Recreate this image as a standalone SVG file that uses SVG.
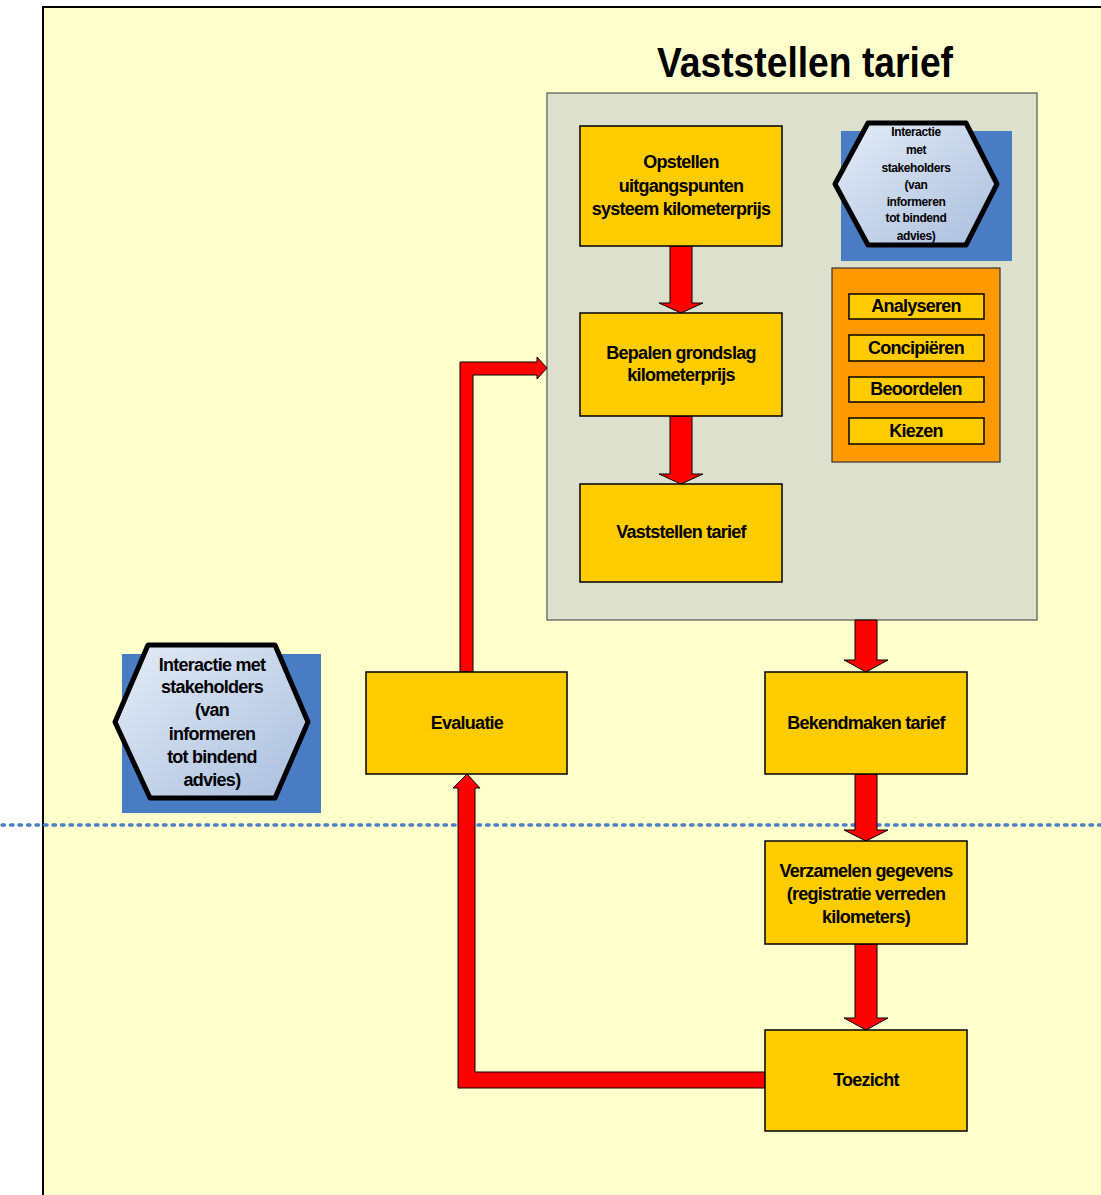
<svg xmlns="http://www.w3.org/2000/svg" width="1101" height="1195" viewBox="0 0 1101 1195">
<defs>
<style>
.t{font-family:"Liberation Sans",Arial,sans-serif;font-weight:bold;fill:#000;text-anchor:middle}
.b{font-size:18px;letter-spacing:-0.75px}
.s{font-size:12px;letter-spacing:-0.4px}
.box{fill:#FFCC00;stroke:#000;stroke-width:1.5}
.arr{fill:#FF0000;stroke:#000;stroke-width:1}
.hex{stroke:#000;stroke-width:5;stroke-linejoin:round;fill:url(#hg)}
.bluebg{fill:#4A7CC4}
</style>
<linearGradient id="hg" x1="0" y1="0" x2="1" y2="1">
<stop offset="0" stop-color="#E4ECF7"/>
<stop offset="1" stop-color="#A9BEDD"/>
</linearGradient>
</defs>
<rect x="0" y="0" width="1101" height="1195" fill="#FFFFFF"/>
<rect id="frame" x="43" y="7" width="1070" height="1200" fill="#FFFFCC" stroke="#000" stroke-width="2"/>
<text class="t" x="805" y="77" font-size="43" textLength="296" lengthAdjust="spacingAndGlyphs">Vaststellen tarief</text>
<line x1="2" y1="825" x2="1101" y2="825" stroke="#4F7FC4" stroke-width="3.5" stroke-dasharray="2.5 6" stroke-linecap="round"/>

<g id="container">
<rect x="547" y="93" width="490" height="527" fill="#DDE0CC" stroke="#555" stroke-width="1.2"/>
</g>

<g id="connectors">
<path class="arr" d="M670,246 H692 V303 H703 L681,313 L659,303 H670 Z"/>
<path class="arr" d="M670,416 H692 V474 H703 L681,484 L659,474 H670 Z"/>
<path class="arr" d="M855,620 H877 V660 H888 L866,672 L844,660 H855 Z"/>
<path class="arr" d="M855,774 H877 V830 H888 L866,841 L844,830 H855 Z"/>
<path class="arr" d="M855,944 H877 V1018 H888 L866,1030 L844,1018 H855 Z"/>
<path class="arr" d="M460,672 V362 H537 V357 L547,368 L537,379 V375 H473 V672 Z"/>
<path class="arr" d="M765,1072 V1088 H458 V788 H453 L467,774 L480,788 H475 V1072 Z"/>
</g>

<g id="opstellen">
<rect class="box" x="580" y="126" width="202" height="120"/>
<text class="t b" x="681" y="168">Opstellen</text>
<text class="t b" x="681" y="192">uitgangspunten</text>
<text class="t b" x="681" y="215">systeem kilometerprijs</text>
</g>
<g id="bepalen">
<rect class="box" x="580" y="313" width="202" height="103"/>
<text class="t b" x="681" y="359">Bepalen grondslag</text>
<text class="t b" x="681" y="381">kilometerprijs</text>
</g>
<g id="vaststellen">
<rect class="box" x="580" y="484" width="202" height="98"/>
<text class="t b" x="681" y="538">Vaststellen tarief</text>
</g>

<g id="interactie-top">
<rect class="bluebg" x="841" y="131" width="171" height="130"/>
<polygon class="hex" points="868,123 966,123 997,184 966,245 868,245 835,184"/>
<text class="t s" x="916" y="136">Interactie</text>
<text class="t s" x="916" y="154">met</text>
<text class="t s" x="916" y="172">stakeholders</text>
<text class="t s" x="916" y="189">(van</text>
<text class="t s" x="916" y="206">informeren</text>
<text class="t s" x="916" y="222">tot bindend</text>
<text class="t s" x="916" y="240">advies)</text>
</g>

<g id="activiteiten">
<rect x="832" y="268" width="168" height="194" fill="#FF9900" stroke="#333" stroke-width="1.2"/>
<rect class="box" x="849" y="294" width="135" height="25"/>
<text class="t b" x="916" y="312">Analyseren</text>
<rect class="box" x="849" y="335" width="135" height="26"/>
<text class="t b" x="916" y="354">Concipiëren</text>
<rect class="box" x="849" y="377" width="135" height="25"/>
<text class="t b" x="916" y="395">Beoordelen</text>
<rect class="box" x="849" y="418" width="135" height="26"/>
<text class="t b" x="916" y="437">Kiezen</text>
</g>

<g id="interactie-left">
<rect class="bluebg" x="122" y="654" width="199" height="159"/>
<polygon class="hex" points="148,645 275,645 308,722 275,798 150,798 115,722"/>
<text class="t b" x="212" y="671">Interactie met</text>
<text class="t b" x="212" y="693">stakeholders</text>
<text class="t b" x="212" y="716">(van</text>
<text class="t b" x="212" y="740">informeren</text>
<text class="t b" x="212" y="763">tot bindend</text>
<text class="t b" x="212" y="786">advies)</text>
</g>

<g id="evaluatie">
<rect class="box" x="366" y="672" width="201" height="102"/>
<text class="t b" x="467" y="729">Evaluatie</text>
</g>
<g id="bekendmaken">
<rect class="box" x="765" y="672" width="202" height="102"/>
<text class="t b" x="866" y="729">Bekendmaken tarief</text>
</g>
<g id="verzamelen">
<rect class="box" x="765" y="841" width="202" height="103"/>
<text class="t b" x="866" y="877">Verzamelen gegevens</text>
<text class="t b" x="866" y="900">(registratie verreden</text>
<text class="t b" x="866" y="923">kilometers)</text>
</g>
<g id="toezicht">
<rect class="box" x="765" y="1030" width="202" height="101"/>
<text class="t b" x="866" y="1086">Toezicht</text>
</g>
</svg>
